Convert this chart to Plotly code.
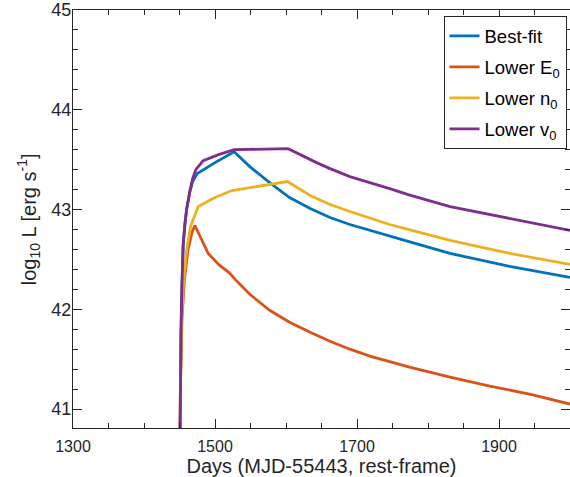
import plotly.graph_objects as go

# ---- data ----
best_x = [1450.5, 1450.8, 1452.0, 1453.5, 1455.2, 1457.6, 1460.0, 1464.7, 1468.5, 1475.0, 1500.0, 1527.0,
          1549.0, 1577.0, 1605.0, 1634.0, 1662.0, 1690.0, 1746.0, 1772.0, 1831.0, 1915.0, 2000.0]
best_y = [40.50, 41.10, 41.74, 42.25, 42.65, 42.85, 43.00, 43.18, 43.28, 43.36, 43.47, 43.58,
          43.43, 43.27, 43.12, 43.01, 42.92, 42.85, 42.73, 42.68, 42.56, 42.43, 42.32]

lowE_x = [1450.6, 1451.3, 1453.5, 1457.0, 1462.0, 1468.0, 1471.7, 1480.0, 1490.4, 1505.0, 1521.0, 1527.0,
          1549.0, 1577.0, 1605.0, 1634.0, 1662.0, 1690.0, 1718.0, 1774.0, 1831.0, 1887.0, 1943.0, 2000.0]
lowE_y = [40.50, 41.20, 41.90, 42.30, 42.60, 42.78, 42.84, 42.72, 42.56, 42.45, 42.36, 42.31,
          42.15, 41.99, 41.87, 41.77, 41.68, 41.60, 41.53, 41.42, 41.32, 41.23, 41.15, 41.05]

lown_x = [1450.6, 1451.2, 1453.0, 1456.0, 1460.0, 1465.6, 1476.4, 1500.0, 1524.0, 1549.0, 1575.0, 1602.0,
          1634.0, 1662.0, 1690.0, 1746.0, 1772.0, 1831.0, 1915.0, 2000.0]
lown_y = [40.50, 41.20, 41.90, 42.30, 42.59, 42.83, 43.03, 43.12, 43.19, 43.22, 43.25, 43.28,
          43.14, 43.05, 42.98, 42.85, 42.80, 42.69, 42.56, 42.45]

lowv_x = [1450.5, 1450.8, 1452.0, 1453.5, 1455.2, 1457.6, 1460.0, 1464.7, 1468.5, 1473.0, 1483.4, 1505.0,
          1527.0, 1603.0, 1625.0, 1643.0, 1662.0, 1690.0, 1746.0, 1772.0, 1831.0, 1915.0, 2000.0]
lowv_y = [40.50, 41.10, 41.74, 42.25, 42.65, 42.85, 43.00, 43.19, 43.31, 43.40, 43.49, 43.55,
          43.60, 43.61, 43.53, 43.47, 43.41, 43.33, 43.21, 43.15, 43.03, 42.91, 42.79]

names = ["Best-fit", "Lower E<sub>0</sub>", "Lower n<sub>0</sub>", "Lower v<sub>0</sub>"]
colors = ["#0072BD", "#D95319", "#EDB120", "#7E2F8E"]

x_ticks = [1300, 1500, 1700, 1900]
y_ticks = [41, 42, 43, 44, 45]

fig = go.Figure()
for i, (xs, ys, nm, c) in enumerate(zip([best_x, lowE_x, lown_x, lowv_x], [best_y, lowE_y, lown_y, lowv_y],
                                        names, colors)):
    fig.add_trace(go.Scatter(x=xs, y=ys, mode="lines", name=nm, legendgroup=f"g{i}",
                             line=dict(color=c, width=2.8)))

axcol = "#262626"
font = "Liberation Sans, Arial, Helvetica, sans-serif"
fig.update_layout(
    width=570, height=477,
    margin=dict(l=73, r=0, t=10, b=49),
    plot_bgcolor="white", paper_bgcolor="white",
    font=dict(family=font, color=axcol, size=16),
    showlegend=True,
    legend=dict(x=0.993, y=0.985, xanchor="right", yanchor="top",
                bordercolor=axcol, borderwidth=1, bgcolor="white",
                font=dict(size=18.5, color="black"), tracegroupgap=4,
                itemwidth=30),
    xaxis=dict(range=[1300, 2000], tickvals=x_ticks, ticks="inside", ticklen=9, tickwidth=1,
               tickcolor=axcol, showline=True, linecolor=axcol, linewidth=1, mirror="ticks",
               showgrid=False, zeroline=False, tickfont=dict(size=16), ticklabelstandoff=4,
               minor=dict(dtick=50, tick0=1300, ticks="inside", ticklen=5, tickcolor=axcol),
               title=dict(text="Days (MJD-55443, rest-frame)", font=dict(size=20), standoff=5)),
    yaxis=dict(range=[40.81, 45], tickvals=y_ticks, ticks="inside", ticklen=9, tickwidth=1,
               tickcolor=axcol, showline=True, linecolor=axcol, linewidth=1, mirror="ticks",
               showgrid=False, zeroline=False, tickfont=dict(size=18), ticklabelstandoff=-3,
               minor=dict(dtick=0.2, tick0=41, ticks="inside", ticklen=5, tickcolor=axcol)),
    annotations=[dict(text="log<sub>10</sub> L [erg s<sup>-1</sup>]", textangle=-90,
                      xref="paper", yref="paper", x=-0.09, y=0.5, xanchor="center", yanchor="middle",
                      showarrow=False, font=dict(size=20, color=axcol))],
)
fig.write_html("out.html")
